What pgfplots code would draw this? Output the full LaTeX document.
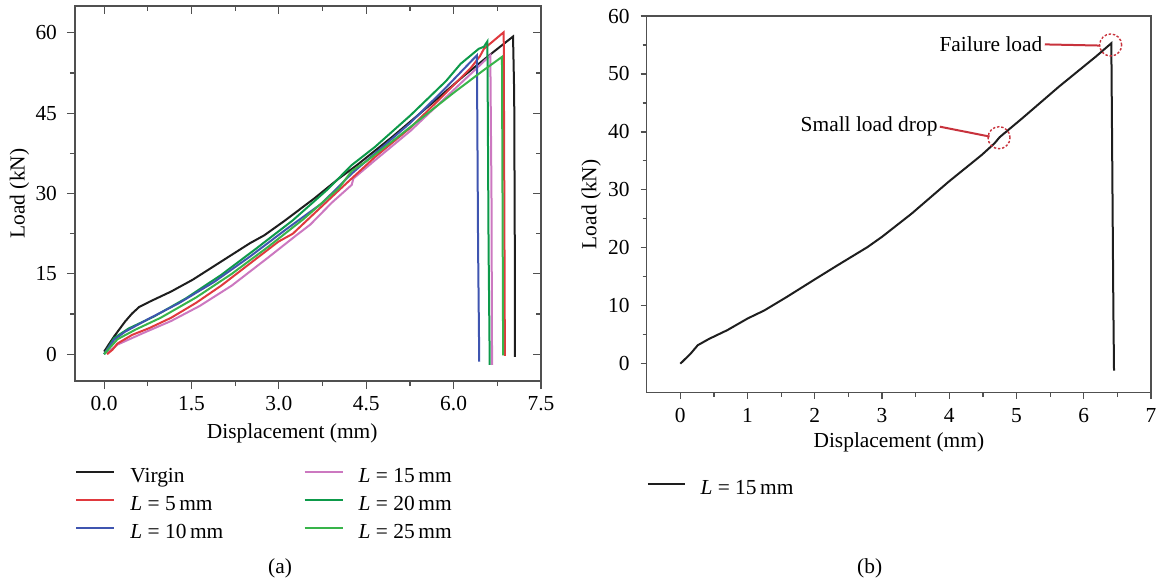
\documentclass[border=0pt]{standalone}
\usepackage{fontspec}
\setmainfont{Liberation Serif}
\usepackage{pgfplots}
\pgfplotsset{compat=1.18}

\definecolor{axgray}{HTML}{505050}
\definecolor{cvirgin}{HTML}{1E1E1E}
\definecolor{cfive}{HTML}{E0393E}
\definecolor{cten}{HTML}{3F55B0}
\definecolor{cfifteen}{HTML}{CC78C0}
\definecolor{ctwenty}{HTML}{0D9A4A}
\definecolor{ctwentyfive}{HTML}{38B44A}
\definecolor{annred}{HTML}{C8323C}

\newcommand{\fs}{\fontsize{10.7}{12.5}\selectfont}

\pgfplotsset{
  panel/.style={
    scale only axis,
    anchor=south west,
    axis line style={axgray, line width=0.65pt},
    every tick/.style={axgray, line width=0.6pt},
    tick label style={font=\fs, /pgf/number format/assume math mode=true},
    label style={font=\fs},
    legend cell align=left,
  },
}

\begin{document}
\begin{tikzpicture}

% ---------- (a) ----------
\begin{axis}[panel,
  at={(37.5pt,101.5pt)}, width=233pt, height=187.5pt,
  xmin=-0.5, xmax=7.5, ymin=-5, ymax=65,
  xtick={0,1.5,...,7.5}, ytick={0,15,...,60},
  minor x tick num=1, minor y tick num=1,
  xtick pos=left, ytick pos=left, tick align=outside,
  major tick length=4pt, minor tick length=2.5pt,
  xticklabel style={/pgf/number format/.cd, fixed, fixed zerofill, precision=1},
  yticklabel style={xshift=-1.5pt},
  xlabel={Displacement (mm)}, ylabel={Load (kN)},
  xlabel style={at={(axis description cs:0.466,-0.1387)}, anchor=center},
  ylabel style={at={(axis description cs:-0.119,0.5)}, anchor=center},
  legend columns=2,
  legend style={at={(axis description cs:0,-0.2320)}, anchor=north west,
    draw=none, fill=none, inner sep=0pt, outer sep=0pt, font=\fs,
    row sep=4.6pt,
    nodes={inner sep=0pt, text height=7.3pt, text depth=2.1pt},
    /tikz/every odd column/.append style={column sep=7.5pt},
    /tikz/every even column/.append style={column sep=40pt}},
  legend image code/.code={\draw[#1, line width=1.2pt] (0pt,2.7pt) -- (19pt,2.7pt);},
]
\addplot[cvirgin, line width=1pt] coordinates {(0,0.5) (0.17,3.3) (0.36,6.1) (0.48,7.6) (0.60,8.8) (0.78,9.8) (1.15,11.7) (1.52,13.9) (2.01,17.3) (2.50,20.7) (2.75,22.2) (3.11,25.0) (3.61,29.1) (4.03,32.8) (4.34,35.3) (4.95,40.6) (5.57,46.3) (6.18,52.0) (6.67,56.3) (7.02,59.3) (7.04,48.6) (7.05,20.7) (7.05,-0.5)};
\addlegendentry{Virgin}
\addplot[cfifteen, line width=1pt] coordinates {(0.05,0.2) (0.23,1.8) (0.66,3.9) (1.15,6.2) (1.64,9.0) (2.19,12.8) (2.81,18.0) (3.30,22.2) (3.54,24.2) (3.91,28.3) (4.25,31.6) (4.28,32.8) (4.65,36.2) (5.26,41.7) (5.87,48.0) (6.36,53.0) (6.63,55.8) (6.65,30) (6.66,-2.0)};
\addlegendentry{\textit{L} = 15\,mm}
\addplot[cfive, line width=1pt] coordinates {(0.05,0) (0.14,0.8) (0.23,2.0) (0.48,3.6) (0.78,4.9) (1.15,6.8) (1.58,9.6) (2.01,12.8) (2.50,16.9) (2.99,21.0) (3.24,22.5) (3.61,26.3) (4.03,30.6) (4.25,32.8) (4.65,36.8) (5.26,42.3) (5.87,48.8) (6.30,53.5) (6.45,55.6) (6.52,57.0) (6.86,60.1) (6.88,-0.3)};
\addlegendentry{\textit{L} = 5\,mm}
\addplot[ctwenty, line width=1pt] coordinates {(0,0) (0.17,3.0) (0.42,4.8) (0.85,7.0) (1.40,10.4) (2.01,14.8) (2.62,19.8) (3.24,25.0) (3.85,30.9) (4.25,35.3) (4.65,38.7) (5.26,44.6) (5.87,51.0) (6.12,54.2) (6.43,57.0) (6.52,57.4) (6.58,58.4) (6.60,20) (6.62,-2.0)};
\addlegendentry{\textit{L} = 20\,mm}
\addplot[cten, line width=1pt] coordinates {(0,0) (0.17,2.7) (0.36,4.2) (0.78,6.7) (1.28,9.5) (1.89,13.5) (2.50,18.2) (3.11,23.2) (3.73,28.1) (4.25,33.7) (4.65,37.5) (5.26,43.2) (5.87,49.8) (6.40,55.8) (6.42,20) (6.44,-1.4)};
\addlegendentry{\textit{L} = 10\,mm}
\addplot[ctwentyfive, line width=1pt] coordinates {(0,0) (0.23,2.8) (0.54,4.6) (0.97,6.8) (1.58,10.6) (2.19,15.0) (2.81,20.0) (3.42,25.2) (4.03,31.0) (4.25,34.2) (4.5,36.0) (5.0,40.2) (5.5,44.5) (6.0,48.8) (6.5,52.9) (6.83,55.5) (6.85,-0.2)};
\addlegendentry{\textit{L} = 25\,mm}
\end{axis}
% top and right inward ticks of (a)
\begin{axis}[panel,
  at={(37.5pt,101.5pt)}, width=233pt, height=187.5pt,
  xmin=-0.5, xmax=7.5, ymin=-5, ymax=65,
  xtick={0,1.5,...,7.5}, ytick={0,15,...,60},
  minor x tick num=1, minor y tick num=1,
  xtick pos=right, ytick pos=right, tick align=inside,
  major tick length=4pt, minor tick length=2.5pt,
  xticklabels={}, yticklabels={},
]
\end{axis}

% ---------- (b) ----------
\begin{axis}[panel,
  at={(323.35pt,95.65pt)}, width=252.15pt, height=188.35pt,
  xmin=-0.5, xmax=7, ymin=-5, ymax=60,
  xtick={0,...,7}, ytick={0,10,...,60},
  minor x tick num=1, minor y tick num=1,
  xtick pos=left, ytick pos=left, tick align=outside,
  major tick length=3pt, minor tick length=2pt,
  xticklabel style={yshift=-1.5pt},
  yticklabel style={xshift=-2pt},
  xlabel={Displacement (mm)}, ylabel={Load (kN)},
  xlabel style={at={(axis description cs:0.5,-0.131)}, anchor=center},
  ylabel style={at={(axis description cs:-0.110,0.5)}, anchor=center},
  legend style={at={(axis description cs:0,-0.2320)}, anchor=north west,
    draw=none, fill=none, inner sep=0pt, outer sep=0pt, font=\fs,
    nodes={inner sep=0pt, text height=7.3pt, text depth=2.1pt},
    /tikz/every odd column/.append style={column sep=7.2pt}},
  legend image code/.code={\draw[#1, line width=1.2pt] (0pt,2.7pt) -- (18.5pt,2.7pt);},
]
\addplot[cvirgin, line width=1pt] coordinates {(0,0) (0.15,1.7) (0.26,3.2) (0.43,4.3) (0.70,5.8) (1.0,7.8) (1.25,9.2) (1.58,11.5) (2.02,14.7) (2.34,17.0) (2.78,20.1) (3.0,21.9) (3.44,25.9) (3.99,31.4) (4.48,36.0) (4.67,38.0) (4.75,39.1) (5.08,42.3) (5.63,47.8) (6.18,53.0) (6.41,55.3) (6.42,40.5) (6.44,10) (6.45,-1.2)};
\addlegendentry{\textit{L} = 15\,mm}
\draw[annred, line width=1pt] (axis cs:5.42,55.1) -- (axis cs:6.24,54.9);
\draw[annred, line width=0.7pt, dash pattern=on 1.2pt off 0.9pt] (axis cs:6.40,55.0) circle[radius=5.5pt];
\node[anchor=east, font=\fs, inner sep=0pt] at (axis cs:5.39,55.1) {Failure load};
\draw[annred, line width=1pt] (axis cs:3.86,40.9) -- (axis cs:4.60,39.2);
\draw[annred, line width=0.7pt, dash pattern=on 1.2pt off 0.9pt] (axis cs:4.74,39.0) circle[radius=5.5pt];
\node[anchor=east, font=\fs, inner sep=0pt] at (axis cs:3.83,40.9) {Small load drop};
\end{axis}

\node[font=\fs] at (140pt,8pt) {(a)};
\node[font=\fs] at (434.85pt,8pt) {(b)};

\pgfresetboundingbox
\path[use as bounding box] (0,0) rectangle (578.5pt,292pt);
\end{tikzpicture}
\end{document}
